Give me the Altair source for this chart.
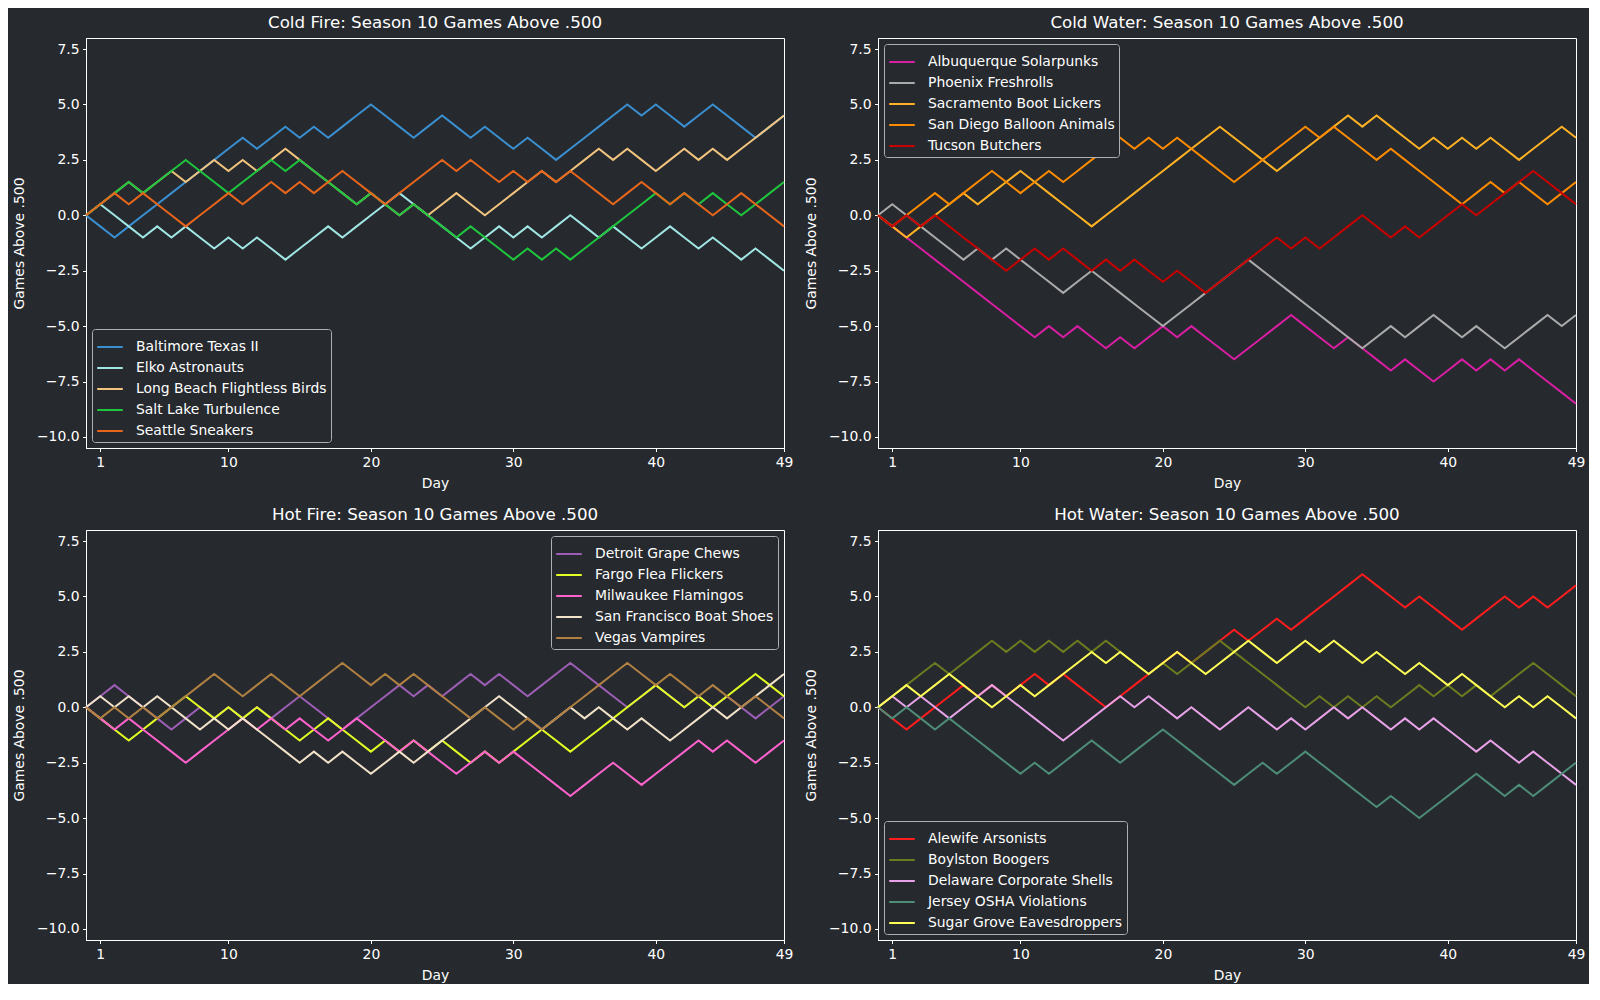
import altair as alt
import pandas as pd

# ---------------- data (games above .500, day 0..49) ----------------
days = list(range(50))

# Cold Fire
baltimore = [0,-0.5,-1,-0.5,0,0.5,1,1.5,2,2.5, 3,3.5,3,3.5,4,3.5,4,3.5,4,4.5, 5,4.5,4,3.5,4,4.5,4,3.5,4,3.5, 3,3.5,3,2.5,3,3.5,4,4.5,5,4.5, 5,4.5,4,4.5,5,4.5,4,3.5,4,4.5]
elko = [0,0.5,0,-0.5,-1,-0.5,-1,-0.5,-1,-1.5, -1,-1.5,-1,-1.5,-2,-1.5,-1,-0.5,-1,-0.5, 0,0.5,1,0.5,0,-0.5,-1,-1.5,-1,-0.5, -1,-0.5,-1,-0.5,0,-0.5,-1,-0.5,-1,-1.5, -1,-0.5,-1,-1.5,-1,-1.5,-2,-1.5,-2,-2.5]
long_beach = [0,0.5,1,1.5,1,1.5,2,1.5,2,2.5, 2,2.5,2,2.5,3,2.5,2,1.5,1,0.5, 1,0.5,0,0.5,0,0.5,1,0.5,0,0.5, 1,1.5,2,1.5,2,2.5,3,2.5,3,2.5, 2,2.5,3,2.5,3,2.5,3,3.5,4,4.5]
salt_lake = [0,0.5,1,1.5,1,1.5,2,2.5,2,1.5, 1,1.5,2,2.5,2,2.5,2,1.5,1,0.5, 1,0.5,0,0.5,0,-0.5,-1,-0.5,-1,-1.5, -2,-1.5,-2,-1.5,-2,-1.5,-1,-0.5,0,0.5, 1,0.5,1,0.5,1,0.5,0,0.5,1,1.5]
seattle = [0,0.5,1,0.5,1,0.5,0,-0.5,0,0.5, 1,0.5,1,1.5,1,1.5,1,1.5,2,1.5, 1,0.5,1,1.5,2,2.5,2,2.5,2,1.5, 2,1.5,2,1.5,2,1.5,1,0.5,1,1.5, 1,0.5,1,0.5,0,0.5,1,0.5,0,-0.5]

# Cold Water
albuquerque = [0,-0.5,-1,-1.5,-2,-2.5,-3,-3.5,-4,-4.5, -5,-5.5,-5,-5.5,-5,-5.5,-6,-5.5,-6,-5.5, -5,-5.5,-5,-5.5,-6,-6.5,-6,-5.5,-5,-4.5, -5,-5.5,-6,-5.5,-6,-6.5,-7,-6.5,-7,-7.5, -7,-6.5,-7,-6.5,-7,-6.5,-7,-7.5,-8,-8.5]
phoenix = [0,0.5,0,-0.5,-1,-1.5,-2,-1.5,-2,-1.5, -2,-2.5,-3,-3.5,-3,-2.5,-3,-3.5,-4,-4.5, -5,-4.5,-4,-3.5,-3,-2.5,-2,-2.5,-3,-3.5, -4,-4.5,-5,-5.5,-6,-5.5,-5,-5.5,-5,-4.5, -5,-5.5,-5,-5.5,-6,-5.5,-5,-4.5,-5,-4.5]
sacramento = [0,-0.5,-1,-0.5,0,0.5,1,0.5,1,1.5, 2,1.5,1,0.5,0,-0.5,0,0.5,1,1.5, 2,2.5,3,3.5,4,3.5,3,2.5,2,2.5, 3,3.5,4,4.5,4,4.5,4,3.5,3,3.5, 3,3.5,3,3.5,3,2.5,3,3.5,4,3.5]
san_diego = [0,-0.5,0,0.5,1,0.5,1,1.5,2,1.5, 1,1.5,2,1.5,2,2.5,3,3.5,3,3.5, 3,3.5,3,2.5,2,1.5,2,2.5,3,3.5, 4,3.5,4,3.5,3,2.5,3,2.5,2,1.5, 1,0.5,1,1.5,1,1.5,1,0.5,1,1.5]
tucson = [0,-0.5,0,-0.5,0,-0.5,-1,-1.5,-2,-2.5, -2,-1.5,-2,-1.5,-2,-2.5,-2,-2.5,-2,-2.5, -3,-2.5,-3,-3.5,-3,-2.5,-2,-1.5,-1,-1.5, -1,-1.5,-1,-0.5,0,-0.5,-1,-0.5,-1,-0.5, 0,0.5,0,0.5,1,1.5,2,1.5,1,0.5]

# Hot Fire
detroit = [0,0.5,1,0.5,0,-0.5,-1,-0.5,0,-0.5, 0,-0.5,0,-0.5,0,0.5,0,-0.5,-1,-0.5, 0,0.5,1,0.5,1,0.5,1,1.5,1,1.5, 1,0.5,1,1.5,2,1.5,1,0.5,0,0.5, 1,0.5,0,0.5,0,0.5,0,-0.5,0,0.5]
fargo = [0,-0.5,-1,-1.5,-1,-0.5,0,0.5,0,-0.5, 0,-0.5,0,-0.5,-1,-1.5,-1,-0.5,-1,-1.5, -2,-1.5,-2,-1.5,-2,-1.5,-2,-2.5,-2,-2.5, -2,-1.5,-1,-1.5,-2,-1.5,-1,-0.5,0,0.5, 1,0.5,0,0.5,0,0.5,1,1.5,1,0.5]
milwaukee = [0,-0.5,-1,-0.5,-1,-1.5,-2,-2.5,-2,-1.5, -1,-0.5,-1,-0.5,-1,-0.5,-1,-1.5,-1,-0.5, -1,-1.5,-2,-1.5,-2,-2.5,-3,-2.5,-2,-2.5, -2,-2.5,-3,-3.5,-4,-3.5,-3,-2.5,-3,-3.5, -3,-2.5,-2,-1.5,-2,-1.5,-2,-2.5,-2,-1.5]
san_francisco = [0,0.5,0,0.5,0,0.5,0,-0.5,-1,-0.5, -1,-0.5,-1,-1.5,-2,-2.5,-2,-2.5,-2,-2.5, -3,-2.5,-2,-2.5,-2,-1.5,-1,-0.5,0,0.5, 0,-0.5,-1,-0.5,0,-0.5,0,-0.5,-1,-0.5, -1,-1.5,-1,-0.5,0,-0.5,0,0.5,1,1.5]
vegas = [0,-0.5,0,-0.5,0,-0.5,0,0.5,1,1.5, 1,0.5,1,1.5,1,0.5,1,1.5,2,1.5, 1,1.5,1,1.5,1,0.5,0,-0.5,0,-0.5, -1,-0.5,-1,-0.5,0,0.5,1,1.5,2,1.5, 1,1.5,1,0.5,1,0.5,0,0.5,0,-0.5]

# Hot Water
alewife = [0,-0.5,-1,-0.5,0,0.5,1,0.5,1,0.5, 1,1.5,1,1.5,1,0.5,0,0.5,1,1.5, 2,2.5,2,2.5,3,3.5,3,3.5,4,3.5, 4,4.5,5,5.5,6,5.5,5,4.5,5,4.5, 4,3.5,4,4.5,5,4.5,5,4.5,5,5.5]
boylston = [0,0.5,1,1.5,2,1.5,2,2.5,3,2.5, 3,2.5,3,2.5,3,2.5,3,2.5,2,1.5, 2,1.5,2,2.5,3,2.5,2,1.5,1,0.5, 0,0.5,0,0.5,0,0.5,0,0.5,1,0.5, 1,0.5,1,0.5,1,1.5,2,1.5,1,0.5]
delaware = [0,0.5,0,0.5,0,-0.5,0,0.5,1,0.5, 0,-0.5,-1,-1.5,-1,-0.5,0,0.5,0,0.5, 0,-0.5,0,-0.5,-1,-0.5,0,-0.5,-1,-0.5, -1,-0.5,0,-0.5,0,-0.5,-1,-0.5,-1,-0.5, -1,-1.5,-2,-1.5,-2,-2.5,-2,-2.5,-3,-3.5]
jersey = [0,-0.5,0,-0.5,-1,-0.5,-1,-1.5,-2,-2.5, -3,-2.5,-3,-2.5,-2,-1.5,-2,-2.5,-2,-1.5, -1,-1.5,-2,-2.5,-3,-3.5,-3,-2.5,-3,-2.5, -2,-2.5,-3,-3.5,-4,-4.5,-4,-4.5,-5,-4.5, -4,-3.5,-3,-3.5,-4,-3.5,-4,-3.5,-3,-2.5]
sugar_grove = [0,0.5,1,0.5,1,1.5,1,0.5,0,0.5, 1,0.5,1,1.5,2,2.5,2,2.5,2,1.5, 2,2.5,2,1.5,2,2.5,3,2.5,2,2.5, 3,2.5,3,2.5,2,2.5,2,1.5,2,1.5, 1,1.5,1,0.5,0,0.5,0,0.5,0,-0.5]

x_ticks = [1, 10, 20, 30, 40, 49]
y_ticks = [-10, -7.5, -5, -2.5, 0, 2.5, 5, 7.5]

panels = [
    ("Cold Fire", "bottom-left", [
        ("Baltimore Texas II", baltimore, "#3a8fd0"),
        ("Elko Astronauts", elko, "#a0e6e4"),
        ("Long Beach Flightless Birds", long_beach, "#f2c47e"),
        ("Salt Lake Turbulence", salt_lake, "#1ec63e"),
        ("Seattle Sneakers", seattle, "#e8661c"),
    ]),
    ("Cold Water", "top-left", [
        ("Albuquerque Solarpunks", albuquerque, "#d81ea2"),
        ("Phoenix Freshrolls", phoenix, "#ababab"),
        ("Sacramento Boot Lickers", sacramento, "#ffb224"),
        ("San Diego Balloon Animals", san_diego, "#ff8c00"),
        ("Tucson Butchers", tucson, "#c80000"),
    ]),
    ("Hot Fire", "top-right", [
        ("Detroit Grape Chews", detroit, "#9b5eb4"),
        ("Fargo Flea Flickers", fargo, "#e2ff24"),
        ("Milwaukee Flamingos", milwaukee, "#ff62cc"),
        ("San Francisco Boat Shoes", san_francisco, "#f1e2c9"),
        ("Vegas Vampires", vegas, "#b08042"),
    ]),
    ("Hot Water", "bottom-left", [
        ("Alewife Arsonists", alewife, "#ff1c1c"),
        ("Boylston Boogers", boylston, "#6c7b1f"),
        ("Delaware Corporate Shells", delaware, "#e8a2e8"),
        ("Jersey OSHA Violations", jersey, "#4d8c76"),
        ("Sugar Grove Eavesdroppers", sugar_grove, "#ffff55"),
    ]),
]


def make_panel(name, orient, teams):
    rows = []
    for team, vals, _ in teams:
        for d, v in zip(days, vals):
            rows.append({"day": d, "value": v, "team": team})
    df = pd.DataFrame(rows)
    names = [t[0] for t in teams]
    cols = [t[2] for t in teams]
    return (
        alt.Chart(df, title=f"{name}: Season 10 Games Above .500")
        .mark_line(strokeWidth=2)
        .encode(
            x=alt.X("day:Q",
                    scale=alt.Scale(domain=[0, 49], nice=False, zero=False),
                    axis=alt.Axis(values=x_ticks, format="d", title="Day")),
            y=alt.Y("value:Q",
                    scale=alt.Scale(domain=[-10.5, 8], nice=False, zero=False),
                    axis=alt.Axis(values=y_ticks, format=".1f", title="Games Above .500")),
            color=alt.Color("team:N",
                            scale=alt.Scale(domain=names, range=cols),
                            sort=names,
                            legend=alt.Legend(orient=orient, title=None, offset=6)),
        )
        .properties(width=698, height=410)
    )


charts = [make_panel(*p) for p in panels]

top = alt.hconcat(charts[0], charts[1], spacing=9).resolve_scale(color="independent")
bottom = alt.hconcat(charts[2], charts[3], spacing=9).resolve_scale(color="independent")

chart = (
    alt.vconcat(top, bottom, spacing=14)
    .resolve_scale(color="independent")
    .properties(padding={"left": 3, "top": 6, "right": 3, "bottom": 0})
    .configure(background="#26292e")
    .configure_view(stroke="white", strokeWidth=1)
    .configure_axis(
        grid=False, domainColor="white", tickColor="white", labelColor="white",
        titleColor="white", labelFont="DejaVu Sans", titleFont="DejaVu Sans",
        labelFontSize=13.9, titleFontSize=13.9, titleFontWeight="normal",
        tickSize=3.5, labelPadding=3.5, labelFlush=False, titlePadding=8,
    )
    .configure_axisY(titlePadding=10)
    .configure_title(color="white", font="DejaVu Sans", fontSize=16.7,
                     fontWeight="normal", anchor="middle", offset=6)
    .configure_legend(
        fillColor="#26292e", strokeColor="#b0b0b0", cornerRadius=3, padding=4,
        labelColor="white", labelFont="DejaVu Sans", labelFontSize=13.9,
        symbolType="stroke", symbolSize=655, symbolStrokeWidth=2,
        rowPadding=0, labelOffset=12, labelLimit=400,
    )
)

chart.save("out.html", embed_options={"renderer": "svg", "actions": False})
